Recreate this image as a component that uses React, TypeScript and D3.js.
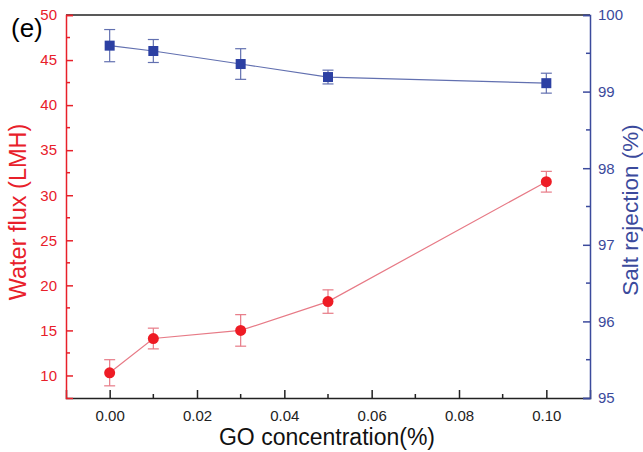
import React, { useEffect, useRef } from 'react';
import * as d3 from 'd3';

const concentrations = [0.0, 0.01, 0.03, 0.05, 0.1];
const waterFlux = [10.3, 14.1, 15.0, 18.2, 31.5];
const waterFluxErr = [1.45, 1.15, 1.75, 1.3, 1.15];
const saltRejection = [99.6, 99.53, 99.36, 99.19, 99.11];
const saltRejectionErr = [0.21, 0.15, 0.2, 0.09, 0.13];

const xTicks = [0.0, 0.02, 0.04, 0.06, 0.08, 0.1];
const xMinorTicks = [0.01, 0.03, 0.05, 0.07, 0.09];
const leftTicks = [10, 15, 20, 25, 30, 35, 40, 45, 50];
const rightTicks = [95, 96, 97, 98, 99, 100];

const RED = '#e8202a';
const RED_LINE = '#e77a86';
const BLUE = '#3b4a9c';
const BLUE_MARK = '#2c40a3';
const BLUE_LINE = '#6270b0';
const FONT = '"Liberation Sans", Arial, sans-serif';

function App() {
  const svgRef = useRef<SVGSVGElement | null>(null);

  useEffect(() => {
    const svg = d3.select(svgRef.current);
    svg.selectAll('*').remove();

    // plot box
    const left = 66, right = 590, top = 15, bottom = 398;

    const x = d3.scaleLinear().domain([-0.01, 0.11]).range([left, right]);
    const yL = d3.scaleLinear().domain([7.5, 50]).range([bottom, top]);
    const yR = d3.scaleLinear().domain([95, 100]).range([bottom, top]);

    // top frame line
    svg.append('line')
      .attr('x1', left).attr('x2', right).attr('y1', top).attr('y2', top)
      .attr('stroke', '#222').attr('stroke-width', 1.5);

    // bottom axis
    const xAxis = d3.axisBottom(x).tickValues(xTicks).tickSize(-8)
      .tickFormat(d3.format('.2f'));
    const gx = svg.append('g').attr('transform', 'translate(0,' + bottom + ')').call(xAxis);
    gx.select('.domain').attr('stroke', '#222').attr('stroke-width', 1.5);
    gx.selectAll('.tick line').attr('stroke', '#222').attr('stroke-width', 1.5);
    gx.selectAll('text').attr('y', 12).attr('font-size', 15).attr('font-family', FONT)
      .attr('fill', '#222');
    svg.append('g').selectAll('line')
      .data(xMinorTicks)
      .enter().append('line')
      .attr('x1', d => x(d)).attr('x2', d => x(d))
      .attr('y1', bottom).attr('y2', bottom - 4)
      .attr('stroke', '#222').attr('stroke-width', 1.5);

    // left axis
    const yAxisL = d3.axisLeft(yL).tickValues(leftTicks).tickSize(-7).tickFormat(d3.format('d'));
    const gl = svg.append('g').attr('transform', 'translate(' + left + ',0)').call(yAxisL);
    gl.select('.domain').attr('stroke', RED).attr('stroke-width', 1.5);
    gl.selectAll('.tick line').attr('stroke', RED).attr('stroke-width', 1.5);
    gl.selectAll('text').attr('x', -9).attr('font-size', 15).attr('font-family', FONT)
      .attr('fill', RED);
    svg.append('g').selectAll('line')
      .data(leftTicks.slice(0, -1).map(v => v + 2.5))
      .enter().append('line')
      .attr('x1', left).attr('x2', left + 4)
      .attr('y1', d => yL(d)).attr('y2', d => yL(d))
      .attr('stroke', RED).attr('stroke-width', 1.5);

    // right axis
    const yAxisR = d3.axisRight(yR).tickValues(rightTicks).tickSize(-7).tickFormat(d3.format('d'));
    const gr = svg.append('g').attr('transform', 'translate(' + right + ',0)').call(yAxisR);
    gr.select('.domain').attr('stroke', BLUE).attr('stroke-width', 1.5);
    gr.selectAll('.tick line').attr('stroke', BLUE).attr('stroke-width', 1.5);
    gr.selectAll('text').attr('x', 8).attr('font-size', 15).attr('font-family', FONT)
      .attr('fill', BLUE);
    svg.append('g').selectAll('line')
      .data(rightTicks.slice(0, -1).map(v => v + 0.5))
      .enter().append('line')
      .attr('x1', right).attr('x2', right - 4)
      .attr('y1', d => yR(d)).attr('y2', d => yR(d))
      .attr('stroke', BLUE).attr('stroke-width', 1.5);

    // water flux series
    const fluxData = concentrations.map((c, i) => ({ c: c, v: waterFlux[i], e: waterFluxErr[i] }));
    const lineL = d3.line<any>().x(d => x(d.c)).y(d => yL(d.v));
    svg.append('path').datum(fluxData).attr('d', lineL)
      .attr('fill', 'none').attr('stroke', RED_LINE).attr('stroke-width', 1.2);
    const ef = svg.append('g').attr('stroke', RED_LINE).attr('stroke-width', 1.2);
    fluxData.forEach(d => {
      ef.append('line').attr('x1', x(d.c)).attr('x2', x(d.c))
        .attr('y1', yL(d.v - d.e)).attr('y2', yL(d.v + d.e));
      [d.v - d.e, d.v + d.e].forEach(v => {
        ef.append('line').attr('x1', x(d.c) - 5.5).attr('x2', x(d.c) + 5.5)
          .attr('y1', yL(v)).attr('y2', yL(v));
      });
    });
    svg.append('g').selectAll('circle').data(fluxData).enter().append('circle')
      .attr('cx', d => x(d.c)).attr('cy', d => yL(d.v)).attr('r', 5.5)
      .attr('fill', '#ee1c25');

    // salt rejection series
    const saltData = concentrations.map((c, i) => ({ c: c, v: saltRejection[i], e: saltRejectionErr[i] }));
    const lineR = d3.line<any>().x(d => x(d.c)).y(d => yR(d.v));
    svg.append('path').datum(saltData).attr('d', lineR)
      .attr('fill', 'none').attr('stroke', BLUE_LINE).attr('stroke-width', 1.2);
    const es = svg.append('g').attr('stroke', BLUE_LINE).attr('stroke-width', 1.2);
    saltData.forEach(d => {
      es.append('line').attr('x1', x(d.c)).attr('x2', x(d.c))
        .attr('y1', yR(d.v - d.e)).attr('y2', yR(d.v + d.e));
      [d.v - d.e, d.v + d.e].forEach(v => {
        es.append('line').attr('x1', x(d.c) - 5.5).attr('x2', x(d.c) + 5.5)
          .attr('y1', yR(v)).attr('y2', yR(v));
      });
    });
    svg.append('g').selectAll('rect').data(saltData).enter().append('rect')
      .attr('x', d => x(d.c) - 5).attr('y', d => yR(d.v) - 5)
      .attr('width', 10).attr('height', 10)
      .attr('fill', BLUE_MARK);

    // titles
    svg.append('text')
      .attr('transform', 'translate(26,212) rotate(-90)')
      .attr('text-anchor', 'middle').attr('font-size', 23.5).attr('font-family', FONT)
      .attr('fill', RED).text('Water flux (LMH)');
    svg.append('text')
      .attr('transform', 'translate(638,210) rotate(-90)')
      .attr('text-anchor', 'middle').attr('font-size', 22.5).attr('font-family', FONT)
      .attr('fill', BLUE).text('Salt rejection (%)');
    svg.append('text')
      .attr('x', 327).attr('y', 445)
      .attr('text-anchor', 'middle').attr('font-size', 23).attr('font-family', FONT)
      .attr('fill', '#111').text('GO concentration(%)');
    svg.append('text')
      .attr('x', 11).attr('y', 37)
      .attr('font-size', 26).attr('font-family', FONT)
      .attr('fill', '#000').text('(e)');
  }, []);

  return (
    <svg ref={svgRef} width={643} height={452}
      style={{ position: 'absolute', left: 0, top: 0, background: '#fff' }} />
  );
}

export default App;
